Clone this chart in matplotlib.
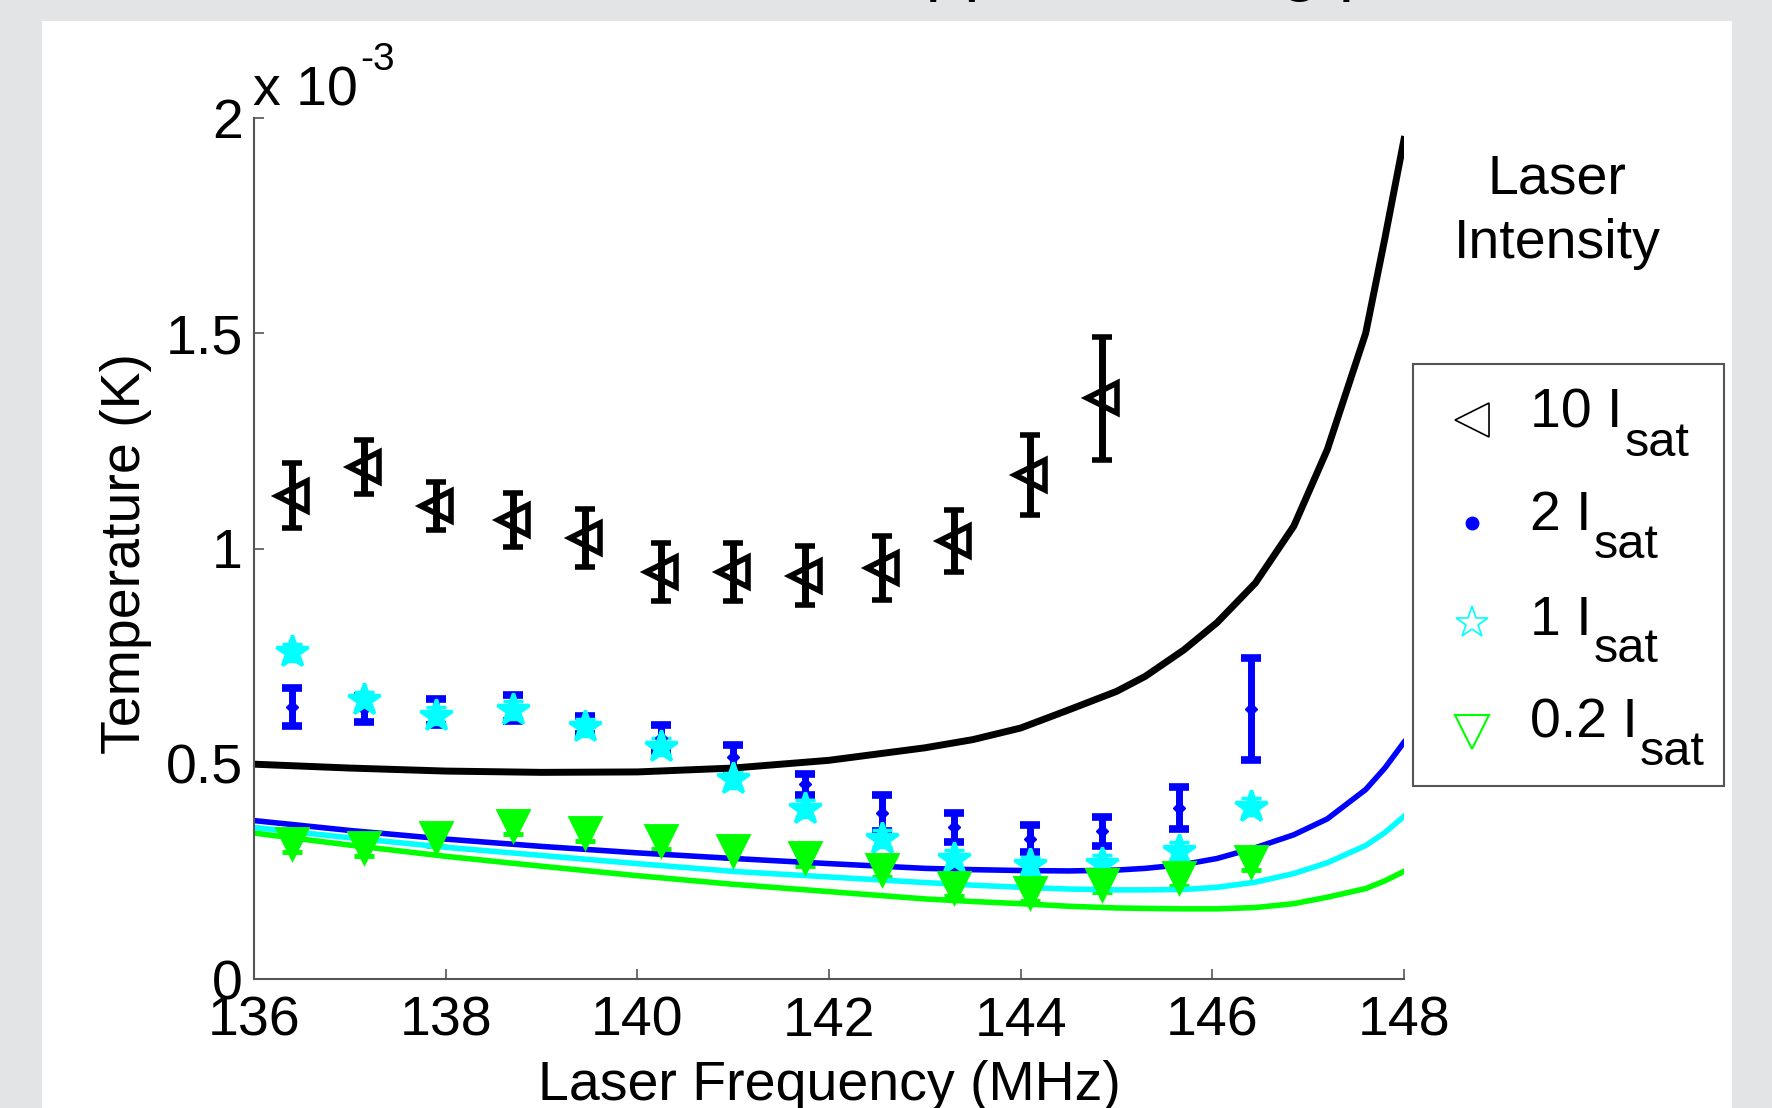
import matplotlib
matplotlib.use("Agg")
import matplotlib.pyplot as plt
from matplotlib.lines import Line2D
from matplotlib.patches import Rectangle

plt.rcParams['font.family'] = ['Liberation Sans', 'DejaVu Sans']

# measured points (temperature in units of 1e-3 K)
freq_pts = [136.4, 137.15, 137.9, 138.7, 139.45, 140.25, 141.0,
            141.75, 142.55, 143.3, 144.1, 144.85, 145.65, 146.4]

t_10 = [1.123, 1.189, 1.098, 1.066, 1.024, 0.945, 0.945,
        0.937, 0.955, 1.018, 1.171, 1.349]
e_10 = [0.075, 0.062, 0.056, 0.062, 0.068, 0.067, 0.067,
        0.069, 0.075, 0.072, 0.093, 0.143]

t_2 = [0.631, 0.627, 0.62, 0.63, 0.59, 0.56, 0.515,
       0.452, 0.385, 0.352, 0.326, 0.343, 0.398, 0.627]
e_2 = [0.044, 0.031, 0.03, 0.03, 0.022, 0.03, 0.028,
       0.025, 0.042, 0.033, 0.031, 0.033, 0.049, 0.118]

t_1 = [0.759, 0.647, 0.612, 0.625, 0.585, 0.54, 0.464,
       0.396, 0.326, 0.279, 0.264, 0.268, 0.298, 0.40]
e_1 = [0.02] * 14

t_02 = [0.315, 0.306, 0.33, 0.357, 0.341, 0.322, 0.30,
        0.283, 0.256, 0.213, 0.201, 0.221, 0.236, 0.273]
e_02 = [0.02] * 14

# theory curves
freq_th = [136, 137, 138, 139, 140, 141, 142, 143, 143.5, 144, 144.5,
           145, 145.3, 145.7, 146.05, 146.45, 146.85, 147.2, 147.6, 147.8, 148]
th_10 = [0.499, 0.49, 0.483, 0.48, 0.481, 0.49, 0.508, 0.537, 0.556, 0.583, 0.625,
         0.668, 0.703, 0.764, 0.828, 0.92, 1.052, 1.23, 1.50, 1.72, 1.95]
th_2 = [0.368, 0.345, 0.325, 0.308, 0.293, 0.28, 0.268, 0.257, 0.254, 0.252, 0.251,
        0.253, 0.257, 0.266, 0.28, 0.305, 0.335, 0.372, 0.44, 0.49, 0.55]
th_1 = [0.352, 0.328, 0.306, 0.287, 0.268, 0.25, 0.237, 0.224, 0.218, 0.213, 0.209,
        0.207, 0.207, 0.208, 0.213, 0.225, 0.245, 0.27, 0.31, 0.34, 0.378]
th_02 = [0.339, 0.311, 0.285, 0.262, 0.24, 0.22, 0.203, 0.186, 0.18, 0.175, 0.169,
         0.165, 0.164, 0.163, 0.163, 0.166, 0.175, 0.19, 0.21, 0.228, 0.25]

leg_main = ['10 I', '2 I', '1 I', '0.2 I']
leg_sub = ['sat', 'sat', 'sat', 'sat']

W, H = 1772, 1108
fig = plt.figure(figsize=(W / 100, H / 100), dpi=100, facecolor='#e3e4e6')
fig.add_artist(Rectangle((42 / W, 0), 1690 / W, 1087 / H, transform=fig.transFigure,
                         facecolor='white', edgecolor='none', zorder=-10))

# title, mostly above the visible area
fig.text(-6 / W, 1 + 12 / H, 'Measured data, theoretical Doppler cooling prediction',
         fontsize=50, ha='left', va='baseline')

ax = fig.add_axes([254 / W, 1 - 979 / H, 1150 / W, 861 / H])
ax.set_xlim(136, 148)
ax.set_ylim(0, 2)

eb = dict(elinewidth=5, capsize=7, capthick=5.5)
ax.errorbar(freq_pts[:12], t_10, yerr=e_10, fmt='<', color='k', ms=22,
            mfc='none', mew=4, **eb)
ax.errorbar(freq_pts, t_2, yerr=e_2, fmt='D', color='b', ms=6, **eb)
ax.errorbar(freq_pts, t_1, yerr=e_1, fmt='*', color='cyan', ms=24, mew=2.5, **eb)
ax.errorbar(freq_pts, t_02, yerr=e_02, fmt='v', color='#00ff00', ms=20,
            mew=3.5, **eb)

ax.plot(freq_th, th_10, color='k', lw=5)
ax.plot(freq_th, th_2, color='b', lw=4)
ax.plot(freq_th, th_1, color='cyan', lw=4)
ax.plot(freq_th, th_02, color='#00ff00', lw=4)

for s in ['top', 'right']:
    ax.spines[s].set_visible(False)
for s in ['left', 'bottom']:
    ax.spines[s].set_color('#555555')
    ax.spines[s].set_linewidth(1.5)

ax.set_xticks([136, 138, 140, 142, 144, 146, 148])
ax.set_yticks([0, 0.5, 1, 1.5, 2])
ax.set_yticklabels(['0', '0.5', '1', '1.5', '2'])
ax.tick_params(direction='in', length=7, width=1.2, color='#555555', labelsize=40)
ax.tick_params(axis='x', pad=12)
ax.tick_params(axis='y', pad=8)

mult = fig.text(253 / W, 1 - 106 / H, 'x 10', fontsize=40, ha='left', va='baseline')
fig.text(126 / W, 1 - 553 / H, 'Temperature (K)', fontsize=40, rotation=90,
         ha='center', va='center')
fig.text(829 / W, 8 / H, 'Laser Frequency (MHz)', fontsize=40,
         ha='center', va='baseline')

fig.text(1557 / W, 1 - 194 / H, 'Laser', fontsize=40, ha='center', va='baseline')
fig.text(1557 / W, 1 - 258 / H, 'Intensity', fontsize=40, ha='center', va='baseline')

# legend box drawn by hand so the subscripts match the MATLAB look
fig.add_artist(Rectangle((1413 / W, 1 - 786 / H), 311 / W, 422 / H,
                         transform=fig.transFigure, facecolor='white',
                         edgecolor='#555555', lw=1.5))
leg_styles = [
    dict(marker='<', color='k', mfc='none', ms=24, mew=1.2),
    dict(marker='o', color='b', ms=9),
    dict(marker='*', color='cyan', mfc='none', ms=24, mew=1.2),
    dict(marker='v', color='#00ff00', mfc='none', ms=24, mew=1.5),
]
row_y = [420, 523, 623, 732]
main_base = [428, 530, 635, 738]
sub_base = [456, 558, 662, 765]
main_texts = []
for i, st in enumerate(leg_styles):
    fig.add_artist(Line2D([1472 / W], [1 - row_y[i] / H], transform=fig.transFigure,
                          ls='none', **st))
    main_texts.append(fig.text(1530 / W, 1 - main_base[i] / H, leg_main[i],
                               fontsize=40, ha='left', va='baseline'))

fig.canvas.draw()
r = fig.canvas.get_renderer()
for i, t in enumerate(main_texts):
    bb = t.get_window_extent(r)
    fig.text((bb.x1 + 2) / W, 1 - sub_base[i] / H, leg_sub[i], fontsize=35,
             ha='left', va='baseline')
bb = mult.get_window_extent(r)
fig.text((bb.x1 + 3) / W, 1 - 70 / H, '-3', fontsize=28, ha='left', va='baseline')

fig.savefig('out.png', dpi=100, facecolor=fig.get_facecolor())
